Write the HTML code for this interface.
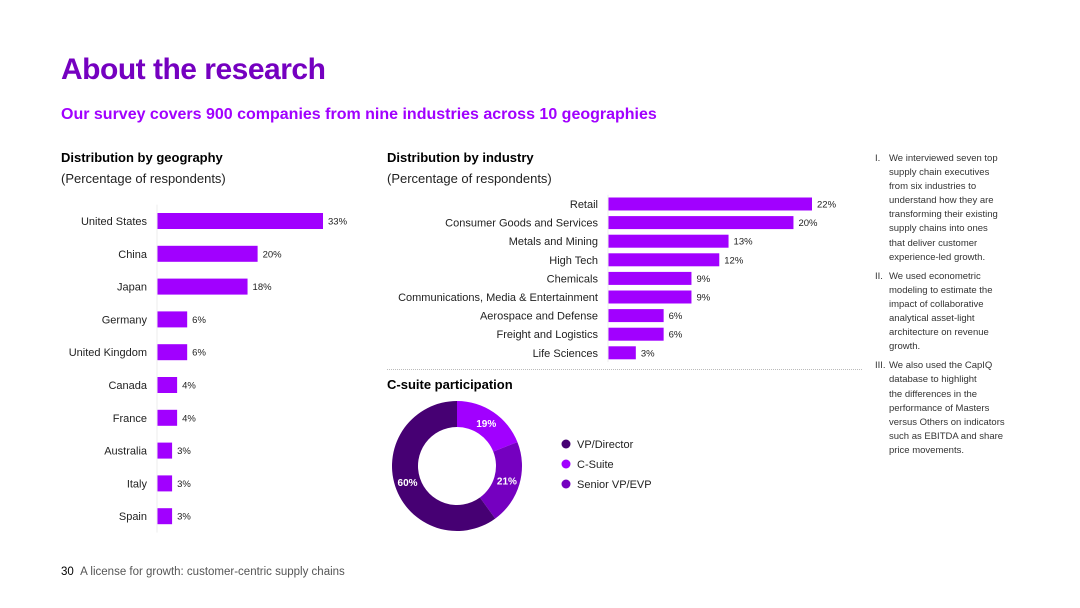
<!DOCTYPE html>
<html><head><meta charset="utf-8"><style>
body{margin:0;width:1080px;height:608px;background:#fff;font-family:"Liberation Sans",sans-serif;position:relative;overflow:hidden;color:#000}
.abs{position:absolute}
</style></head><body>
<div class="abs" style="left:61px;top:53px;font-size:30px;font-weight:bold;color:#7500c0;letter-spacing:-0.5px">About the research</div>
<div class="abs" style="left:61px;top:106px;font-size:16px;font-weight:bold;color:#a100ff">Our survey covers 900 companies from nine industries across 10 geographies</div>
<div class="abs" style="left:61px;top:150px;font-size:13px;font-weight:bold">Distribution by geography</div>
<div class="abs" style="left:61px;top:171px;font-size:13px;color:#222">(Percentage of respondents)</div>
<div class="abs" style="left:387px;top:150px;font-size:13px;font-weight:bold">Distribution by industry</div>
<div class="abs" style="left:387px;top:171px;font-size:13px;color:#222">(Percentage of respondents)</div>
<div class="abs" style="left:387px;top:377px;font-size:13px;font-weight:bold">C-suite participation</div>
<div class="abs" style="left:387px;top:369px;width:475px;border-top:1px dotted #bbb"></div>
<div class="abs" style="left:875px;top:152px;width:170px;font-size:9.5px;line-height:14.1px;color:#333;white-space:nowrap">
<div style="display:flex;margin-bottom:5px"><span style="width:14px;flex:none">I.</span><span>We interviewed seven top<br>supply chain executives<br>from six industries to<br>understand how they are<br>transforming their existing<br>supply chains into ones<br>that deliver customer<br>experience-led growth.</span></div>
<div style="display:flex;margin-bottom:5px"><span style="width:14px;flex:none">II.</span><span>We used econometric<br>modeling to estimate the<br>impact of collaborative<br>analytical asset-light<br>architecture on revenue<br>growth.</span></div>
<div style="display:flex"><span style="width:14px;flex:none">III.</span><span>We also used the CapIQ<br>database to highlight<br>the differences in the<br>performance of Masters<br>versus Others on indicators<br>such as EBITDA and share<br>price movements.</span></div>
</div>
<div class="abs" style="left:61px;top:566px;font-size:11.5px;color:#555"><span style="color:#000">30</span>&nbsp;&nbsp;A license for growth: customer-centric supply chains</div>
<svg class="abs" style="left:0;top:0" width="1080" height="608" id="chart"></svg>
<script>
const geoCats=["United States","China","Japan","Germany","United Kingdom","Canada","France","Australia","Italy","Spain"];
const geoVals=[33,20,18,6,6,4,4,3,3,3];
const indCats=["Retail","Consumer Goods and Services","Metals and Mining","High Tech","Chemicals","Communications, Media & Entertainment","Aerospace and Defense","Freight and Logistics","Life Sciences"];
const indVals=[22,20,13,12,9,9,6,6,3];
const pieCats=["C-Suite","Senior VP/EVP","VP/Director"];
const pieVals=[19,21,60];
const pieColors=["#a100ff","#7500c0","#460073"];
const legendOrder=["VP/Director","C-Suite","Senior VP/EVP"];
const NS="http://www.w3.org/2000/svg";
const svg=document.getElementById('chart');
function mk(t,a,txt){const e=document.createElementNS(NS,t);for(const k in a)e.setAttribute(k,a[k]);if(txt!=null)e.textContent=txt;svg.appendChild(e);return e;}
function barChart(cats,vals,x0,pxPer,y0,step,h,prefix){
  cats.forEach((c,i)=>{
    const y=y0+i*step, w=vals[i]*pxPer;
    const l=mk('text',{x:x0-10,y:y+4,'text-anchor':'end','font-size':11,fill:'#222'},c);
    
    
    const r=mk('rect',{x:x0,y:y-h/2,width:w,height:h,fill:'#a100ff'});
    
    
    const v=mk('text',{x:x0+w+5,y:y+3.5,'font-size':9.5,fill:'#222'},vals[i]+'%');
    
    
  });
  const ax=mk('line',{x1:x0,x2:x0,y1:y0-step/2,y2:y0+(cats.length-0.5)*step,stroke:'#eee','stroke-width':1});
  
  
}
barChart(geoCats,geoVals,157,166/33,221,32.8,16,'geo');
barChart(indCats,indVals,608,204/22,204,18.6,13,'ind');
const cx=457,cy=466,R=65,r=39;
let a0=0;const tot=pieVals.reduce((s,v)=>s+v,0);
function pt(a,rad){return [cx+rad*Math.sin(a),cy-rad*Math.cos(a)];}
pieVals.forEach((v,i)=>{
  const a1=a0+v/tot*2*Math.PI,large=(a1-a0)>Math.PI?1:0;
  const [x1,y1]=pt(a0,R),[x2,y2]=pt(a1,R),[x3,y3]=pt(a1,r),[x4,y4]=pt(a0,r);
  const p=mk('path',{d:`M${x1},${y1}A${R},${R} 0 ${large} 1 ${x2},${y2}L${x3},${y3}A${r},${r} 0 ${large} 0 ${x4},${y4}Z`,fill:pieColors[i]});
  
  
  const m=(a0+a1)/2,[lx,ly]=pt(m,(R+r)/2);
  const t=mk('text',{x:lx,y:ly+4,'text-anchor':'middle','font-size':10,'font-weight':'bold',fill:'#fff'},v+'%');
  
  
  a0=a1;
});
legendOrder.forEach((n,i)=>{
  const col=pieColors[pieCats.indexOf(n)],y=444+i*20;
  const c=mk('circle',{cx:566,cy:y,r:4.5,fill:col});
  
  
  const t=mk('text',{x:577,y:y+4,'font-size':11,fill:'#222'},n);
  
  
});
</script>
</body></html>
